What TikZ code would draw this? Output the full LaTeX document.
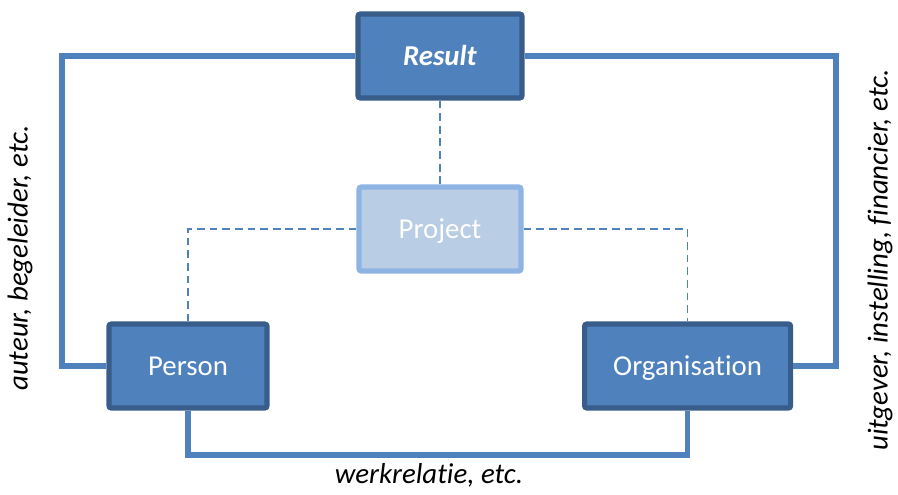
\documentclass[tikz,border=0pt]{standalone}
\usepackage{fontspec}
\setmainfont{Carlito}[Ligatures=NoCommon]
\usepackage{xcolor}
\usetikzlibrary{positioning,calc}

\definecolor{boxblue}{HTML}{4F81BD}
\definecolor{boxedge}{HTML}{385D8A}
\definecolor{paleblue}{HTML}{B9CDE5}
\definecolor{paleedge}{HTML}{8EB4E3}

\tikzset{
    box/.style={draw=boxedge, fill=boxblue, line width=3.6pt, rounded corners=1.5pt,
        minimum height=2.1cm, text=white, text height=13.2pt, text depth=0pt,
        font=\fontsize{20.5}{24}\selectfont},
    palebox/.style={box, draw=paleedge, fill=paleblue},
    link/.style={draw=boxblue, line width=3.6pt},
    dashlink/.style={draw=boxblue, line width=1.2pt, dash pattern=on 5.5pt off 3.5pt},
    side/.style={font=\fontsize{20.5}{24}\selectfont\itshape}
}

\begin{document}
\begin{tikzpicture}
    \useasboundingbox (0,0) rectangle (22.45,-12.35);

    % Boxes
    \node[box, minimum width=4.1cm] (res) at (11.0,-1.4) {\textbf{\textit{Result}}};
    \node[palebox, minimum width=4.05cm] (prj) at (11.0,-5.725) {Project};
    \node[box, minimum width=3.95cm] (per) at (4.7,-9.15) {Person};
    \node[box, minimum width=5.15cm] (org) at (17.19,-9.15) {Organisation};

    % Corners of the outer links
    \coordinate (lft) at (1.55,-5);
    \coordinate (rgt) at (20.9,-5);
    \coordinate (bot) at (10,-11.375);

    % Solid links
    \draw[link] (res.west) -| (lft) |- (per.west);
    \draw[link] (res.east) -| (rgt) |- (org.east);
    \draw[link] (per.south) |- (bot) -| (org.south);

    % Dashed links
    \draw[dashlink] (res.south) -- (prj.north);
    \draw[dashlink] (prj.west) -| (per.north);
    \draw[dashlink] (prj.east) -| (org.north);

    % Labels
    \node[side, rotate=90] (lbla) at (0.5,-6.45) {auteur, begeleider, etc.};
    \node[side, rotate=90] (lblb) at (22.0,-6.5) {uitgever, instelling, financier, etc.};
    \node[side] (lblc) at (10.725,-11.88) {werkrelatie, etc.};
\end{tikzpicture}
\end{document}
